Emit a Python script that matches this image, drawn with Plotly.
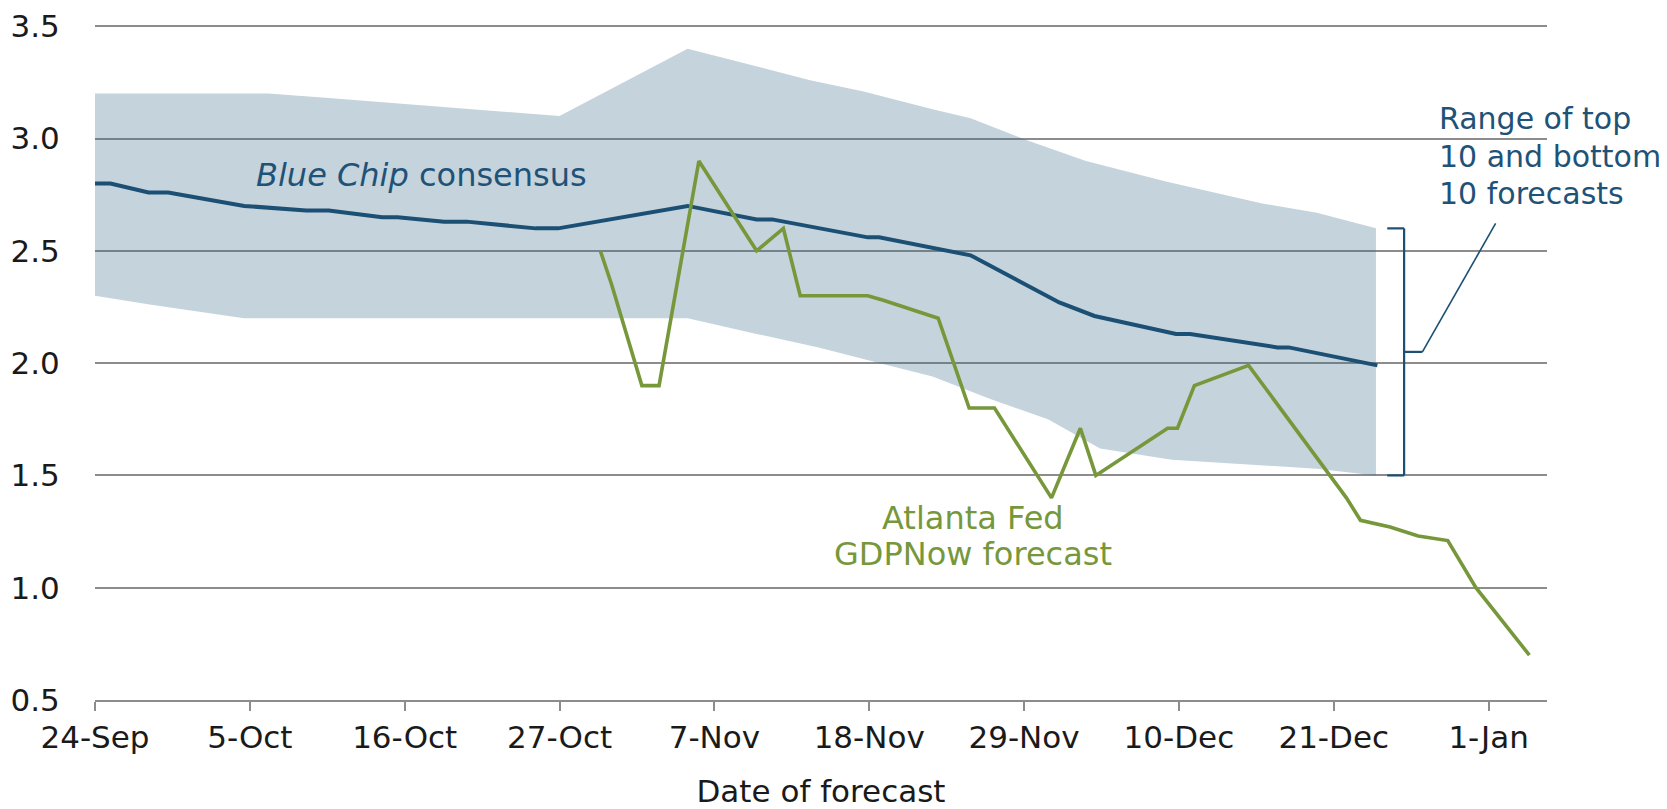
import pandas as pd
import plotly.graph_objects as go

BASE_DATE = "2015-09-24"

# Range of top 10 / bottom 10 forecasts (days after 24-Sep-2015, % value)
band_upper_day = [0, 12.3, 16.6, 33.0, 42.1, 47.0, 50.8, 54.6, 59.5, 62.2, 66.3, 70.4, 76.0, 83.0, 86.8, 91.0]
band_upper_val = [3.2, 3.2, 3.18, 3.1, 3.4, 3.32, 3.26, 3.21, 3.13, 3.09, 2.99, 2.9, 2.81, 2.71, 2.67, 2.6]
band_lower_day = [0, 4.0, 10.6, 42.1, 47.0, 51.4, 55.7, 59.5, 63.6, 67.7, 71.4, 76.5, 81.7, 86.8, 91.0]
band_lower_val = [2.3, 2.26, 2.2, 2.2, 2.13, 2.07, 2.0, 1.94, 1.84, 1.75, 1.62, 1.57, 1.55, 1.53, 1.5]

# Blue Chip consensus
blue_day = [0, 1.1, 3.8, 5.2, 10.6, 15.0, 16.6, 20.4, 21.5, 24.8, 26.4, 31.3, 32.9, 42.1, 47.0, 48.1,
            54.9, 55.7, 62.2, 68.5, 71.0, 76.8, 77.8, 84.0, 84.8, 91.1]
blue_val = [2.8, 2.8, 2.76, 2.76, 2.7, 2.68, 2.68, 2.65, 2.65, 2.63, 2.63, 2.6, 2.6, 2.7, 2.64, 2.64,
            2.56, 2.56, 2.48, 2.27, 2.21, 2.13, 2.13, 2.07, 2.07, 1.99]

# Atlanta Fed GDPNow forecast
green_day = [35.9, 36.7, 38.85, 40.07, 42.9, 47.0, 48.9, 50.1, 54.9, 56.0, 59.9, 62.1, 63.9, 67.95,
             70.0, 71.1, 76.2, 76.9, 78.1, 81.95, 88.9, 89.9, 92.0, 94.0, 96.1, 98.1, 101.9]
green_val = [2.5, 2.35, 1.9, 1.9, 2.9, 2.5, 2.6, 2.3, 2.3, 2.28, 2.2, 1.8, 1.8, 1.4,
             1.71, 1.5, 1.71, 1.71, 1.9, 1.99, 1.4, 1.3, 1.27, 1.23, 1.21, 1.0, 0.7]

tick_dates = ["2015-09-24", "2015-10-05", "2015-10-16", "2015-10-27", "2015-11-07",
              "2015-11-18", "2015-11-29", "2015-12-10", "2015-12-21", "2016-01-01"]
tick_labels = ["24-Sep", "5-Oct", "16-Oct", "27-Oct", "7-Nov", "18-Nov", "29-Nov",
               "10-Dec", "21-Dec", "1-Jan"]
y_ticks = [0.5, 1.0, 1.5, 2.0, 2.5, 3.0, 3.5]

base = pd.Timestamp(BASE_DATE)


def to_dates(days):
    return list(base + pd.to_timedelta(days, unit="D"))


def day(d):
    return base + pd.to_timedelta(d, unit="D")


BLUE = "#1b4f74"
BLUE_TXT = "#1f5277"
GREEN = "#77973b"
FONT = "DejaVu Sans"
FS = 31

fig = go.Figure()

band_x = to_dates(band_upper_day) + to_dates(band_lower_day)[::-1]
band_y = band_upper_val + band_lower_val[::-1]
fig.add_trace(go.Scatter(x=band_x, y=band_y, fill="toself", mode="lines",
                         line=dict(width=0), fillcolor="rgba(62,108,138,0.3)",
                         hoverinfo="skip", showlegend=False))
fig.add_trace(go.Scatter(x=to_dates(blue_day), y=blue_val, mode="lines",
                         line=dict(color=BLUE, width=4), showlegend=False))
fig.add_trace(go.Scatter(x=to_dates(green_day), y=green_val, mode="lines",
                         line=dict(color=GREEN, width=3.6), showlegend=False))

# bracket for the range, tied to the band's final values
top = band_upper_val[-1]
bot = band_lower_val[-1]
mid = (top + bot) / 2
xb = day(93.0)
xh = day(91.8)
xn = day(94.3)
xl = day(99.5)
line_style = dict(color=BLUE, width=2.2)
for x0, y0, x1, y1 in [(xh, top, xb, top), (xb, top, xb, bot), (xh, bot, xb, bot), (xb, mid, xn, mid)]:
    fig.add_shape(type="line", xref="x", yref="y", x0=x0, y0=y0, x1=x1, y1=y1, line=line_style)
fig.add_shape(type="line", xref="x", yref="y", x0=xn, y0=mid, x1=xl, y1=2.622,
              line=dict(color=BLUE, width=1.6))

fig.add_annotation(x=day(11.3), y=2.836, xref="x", yref="y", xanchor="left", yanchor="middle",
                   text="<i>Blue Chip</i> consensus", showarrow=False,
                   font=dict(family=FONT, size=32, color=BLUE_TXT))
for txt, yv in [("Atlanta Fed", 1.311), ("GDPNow forecast", 1.151)]:
    fig.add_annotation(x=day(62.4), y=yv, xref="x", yref="y", xanchor="center", yanchor="middle",
                       text=txt, showarrow=False, font=dict(family=FONT, size=32, color=GREEN))
for txt, yv in [("Range of top", 3.089), ("10 and bottom", 2.922), ("10 forecasts", 2.756)]:
    fig.add_annotation(x=day(95.35), y=yv, xref="x", yref="y", xanchor="left", yanchor="middle",
                       text=txt, showarrow=False,
                       font=dict(family=FONT, size=30, color=BLUE_TXT))

# page body has an 8px margin, so the figure is 8px smaller than the window
fig.update_layout(
    width=1659, height=801,
    margin=dict(l=87, r=120, t=16, b=109),
    paper_bgcolor="white", plot_bgcolor="white",
    font=dict(family=FONT, size=FS, color="#1a1a1a"),
    showlegend=False,
)
fig.update_xaxes(
    type="date",
    range=[BASE_DATE, day(103.15)],
    tickvals=tick_dates, ticktext=tick_labels,
    showgrid=False, showline=True, linecolor="#8c8c8c", linewidth=2,
    ticks="outside", ticklen=9, tickwidth=1.5, tickcolor="#8c8c8c",
    title=dict(text="Date of forecast", standoff=30, font=dict(family=FONT, size=FS)),
    automargin=False, zeroline=False,
)
fig.update_yaxes(
    range=[0.5, 3.51], tickvals=y_ticks, tickformat=".1f",
    showgrid=True, gridcolor="#8c8c8c", gridwidth=1.6,
    showline=False, zeroline=False,
    ticks="outside", ticklen=28, tickcolor="rgba(0,0,0,0)",
    ticklabeloverflow="allow",
    automargin=False,
)

fig.write_html("out.html")
